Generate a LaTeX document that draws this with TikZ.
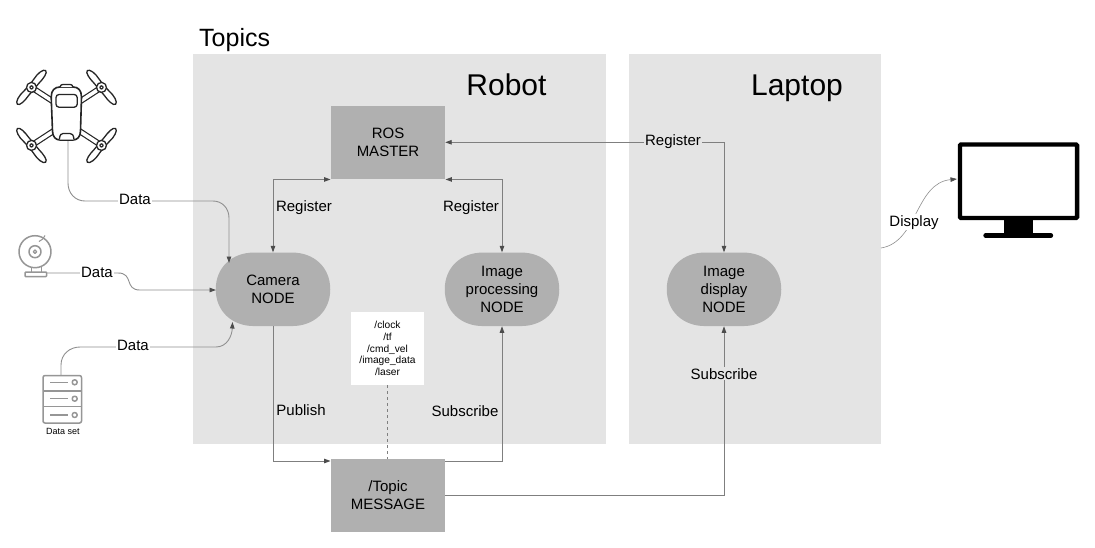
\documentclass[tikz,border=0pt]{standalone}
\usepackage{fontspec}
\setmainfont{Liberation Sans}
\usetikzlibrary{arrows.meta}
\definecolor{panel}{HTML}{E4E4E4}
\definecolor{boxg}{HTML}{B0B0B0}
\definecolor{linkg}{HTML}{7F7F7F}
\definecolor{lightl}{HTML}{8F8F8F}
\definecolor{icong}{HTML}{969696}
\newcommand{\rosblob}[1]{\fill[boxg,shift={(#1)}] (-57.25,0) .. controls (-57.25,-22) and (-41,-36.75) .. (-19,-36.75) -- (19,-36.75) .. controls (41,-36.75) and (57.25,-22) .. (57.25,0) .. controls (57.25,22) and (41,36.75) .. (19,36.75) -- (-19,36.75) .. controls (-41,36.75) and (-57.25,22) .. (-57.25,0) -- cycle;}
\tikzset{
  panelbox/.style={fill=panel,draw=none,rectangle,inner sep=0pt},
  graybox/.style={fill=boxg,draw=none,rectangle,inner sep=0pt,align=center,font=\fontsize{15}{18}\selectfont,minimum width=114.5pt,minimum height=73.5pt},
  rosnode/.style={draw=none,rectangle,inner sep=0pt,align=center,font=\fontsize{15}{17.7}\selectfont,minimum width=114.5pt,minimum height=73.5pt},
  link/.style={draw=linkg,line width=0.9pt},
  arr/.style={link,-{Triangle[length=6.5pt,width=4.5pt,color=black!70]}},
  barr/.style={link,{Triangle[length=6.5pt,width=4.5pt,color=black!70]}-{Triangle[length=6.5pt,width=4.5pt,color=black!70]}},
  lbl/.style={font=\fontsize{15}{18}\selectfont,inner sep=1pt,anchor=base},
  lblf/.style={lbl,fill=panel},
  lblw/.style={lbl,fill=white},
  drone/.style={draw=black!85,line width=1.3pt,fill=white,line join=round},
  gicon/.style={draw=icong,line width=1.5pt,fill=white,line join=round},
}
\begin{document}
\begin{tikzpicture}[x=1pt,y=-1pt]
\useasboundingbox (0,0) rectangle (1095,547);
\fill[white] (0,0) rectangle (1095,547);
% panels
\node[panelbox,minimum width=413pt,minimum height=390pt,anchor=north west] (robot) at (193,54) {};
\node[panelbox,minimum width=252pt,minimum height=390pt,anchor=north west] (laptop) at (629,54) {};
\node[anchor=base west,inner sep=0pt,font=\fontsize{25}{28}\selectfont] (topics) at (199,46.7) {Topics};
\node[anchor=base,inner sep=0pt,font=\fontsize{30}{34}\selectfont] (robotl) at (506.5,95.5) {Robot};
\node[anchor=base,inner sep=0pt,font=\fontsize{30}{34}\selectfont] (laptopl) at (797,95.5) {Laptop};
% main nodes
\node[graybox] (master) at (388,142.5) {ROS\\MASTER};
\rosblob{273,289.3}
\rosblob{502,289.3}
\rosblob{724,289.3}
\node[rosnode] (camera) at (273,289.3) {Camera\\NODE};
\node[rosnode] (proc) at (502,289.3) {Image\\processing\\NODE};
\node[rosnode] (disp) at (724,289.3) {Image\\display\\NODE};
\node[graybox] (topic) at (388,495.5) {/Topic\\MESSAGE};
\node[fill=white,rectangle,inner sep=0pt,minimum width=73pt,minimum height=73pt,align=center,font=\fontsize{10.2}{11.75}\selectfont] (list) at (387.5,348.5) {/clock\\/tf\\/cmd\_vel\\/image\_data\\/laser};
% free ends
\coordinate (droneout) at (68,139);
\coordinate (camout) at (47,273);
\coordinate (dbout) at (61,375);
\coordinate (laptopout) at (881,248);
\coordinate (screenin) at (957,179);
% connectors
\draw[barr] (camera.north) -- (master.south west -| camera.north) -- (master.south west);
\draw[barr] (proc.north) -- (master.south east -| proc.north) -- (master.south east);
\draw[barr] (445.2,142.3) -- (724,142.3) -- (disp.north);
\draw[arr] (camera.south) -- (273,461) -- (topic.north west |- 0,461);
\draw[arr] (topic.north east |- 0,461) -- (502,461) -- (proc.south);
\draw[arr] (topic.east) -- (disp.south |- topic.east) -- (disp.south);
\draw[draw=linkg,line width=0.7pt,dashed] (list.south) -- (topic.north -| list.south);
\draw[draw=lightl,line width=0.9pt,-{Triangle[length=6.5pt,width=4.5pt,color=black!70]}] (droneout) -- (68,183) .. controls (68,193) and (75,201) .. (85,201) -- (213,201) .. controls (222,201) and (229,208) .. (229,218) -- (229,263);
\draw[draw=lightl,line width=0.9pt,-{Triangle[length=6.5pt,width=4.5pt,color=black!70]}] (camout) -- (118,273) .. controls (134,273) and (124,290) .. (140,290) -- (216,290);
\draw[draw=lightl,line width=0.9pt,-{Triangle[length=6.5pt,width=4.5pt,color=black!70]}] (dbout) -- (61,365) .. controls (61,354) and (70,347) .. (80,347) -- (216,347) .. controls (227,347) and (232,336) .. (232.5,322);
\draw[draw=lightl,line width=0.6pt,-{Triangle[length=6.5pt,width=4.5pt,color=black!70]}] (laptopout) .. controls (918,242) and (915,183) .. (screenin);
% labels
\node[lblw] (l1) at (135,204) {Data};
\node[lblw] (l2) at (97,277) {Data};
\node[lblw] (l3) at (133,350.6) {Data};
\node[lblf] (r1) at (304,211.7) {Register};
\node[lblf] (r2) at (471,211.7) {Register};
\node[lblf] (r3) at (673,145.7) {Register};
\node[lblf] (p) at (301,415) {Publish};
\node[lblf] (s) at (465,416.7) {Subscribe};
\node[lblf] (s2) at (724,379) {Subscribe};
\node[lblw] (d) at (914,226) {Display};
% drone
\foreach \sx/\sy in {1/1,-1/1,1/-1,-1/-1}{
  \begin{scope}[shift={(66.5,116.4)},xscale=\sx,yscale=\sy]
   \draw[black!85,line width=6pt] (12,-14) -- (35,-29);
   \draw[white,line width=3.6pt] (12,-14) -- (33,-27.7);
   \begin{scope}[shift={(35,-29)},rotate=-50]
    \draw[drone] (-22,0) .. controls (-22,-3) and (-14,-4.5) .. (-8,-3.5) -- (0,-3) -- (8,-3.5) .. controls (14,-4.5) and (22,-3) .. (22,0) .. controls (22,3) and (14,3.5) .. (8,3) -- (0,3) -- (-8,3) .. controls (-14,3.5) and (-22,3) .. (-22,0) -- cycle;
    \draw[drone] (0,0) circle (5);
    \fill[black!85] (0,0) circle (2.2);
    \fill[white] (0,0) circle (0.8);
   \end{scope}
  \end{scope}
}
\draw[drone,line width=1.6pt] (51.2,97) .. controls (51.2,90) and (55,87) .. (60,87) -- (73,87) .. controls (78,87) and (81.5,90) .. (81.5,97) -- (80.5,131) .. controls (80.5,137) and (77,140) .. (73,140) -- (60,140) .. controls (56,140) and (52.5,137) .. (52.5,131) -- cycle;
\draw[drone,rounded corners=3pt] (56,94.5) rectangle (77.2,107.2);
\draw[drone] (59.3,139.5) .. controls (60,134.5) and (61,133.5) .. (63,133.5) -- (70,133.5) .. controls (72,133.5) and (73.5,134.5) .. (74,139.5);
\draw[drone] (60,87) .. controls (60.5,85) and (61.5,84.5) .. (63,84.5) -- (70,84.5) .. controls (71.5,84.5) and (72.5,85) .. (73,87);
% webcam
\draw[gicon] (35,251.7) circle (16);
\draw[gicon] (35,251.7) circle (6);
\draw[gicon,line width=1.2pt] (35,251.7) circle (1.8);
\draw[gicon,line width=1pt,fill=none] (39,241.5) arc[start angle=68,end angle=22,radius=11];
\draw[gicon] (31.7,267) -- (31.7,272) (41.7,267) -- (41.7,272);
\draw[gicon,rounded corners=1pt] (25,272) rectangle (46.7,276.7);
% dataset
\draw[gicon,rounded corners=2pt] (43,375.5) rectangle (81.5,423);
\draw[gicon] (43,391) -- (81.5,391) (43,406.7) -- (81.5,406.7);
\foreach \yy in {382.3,398.7,415}{
 \draw[gicon] (50,\yy) -- (68,\yy);
 \draw[gicon] (74.7,\yy) circle (2.5);
}
\node[inner sep=0pt,font=\fontsize{9}{11}\selectfont] (dsl) at (63,431.7) {Data set};
% monitor
\draw[black,line width=4.3pt,rounded corners=1pt,fill=white] (959.9,144.5) rectangle (1077.1,217.9);
\fill[black] (1004.3,219) rectangle (1032.7,236);
\draw[black,line width=4.3pt,line cap=round] (985.5,235.5) -- (1051,235.5);
\end{tikzpicture}
\end{document}
